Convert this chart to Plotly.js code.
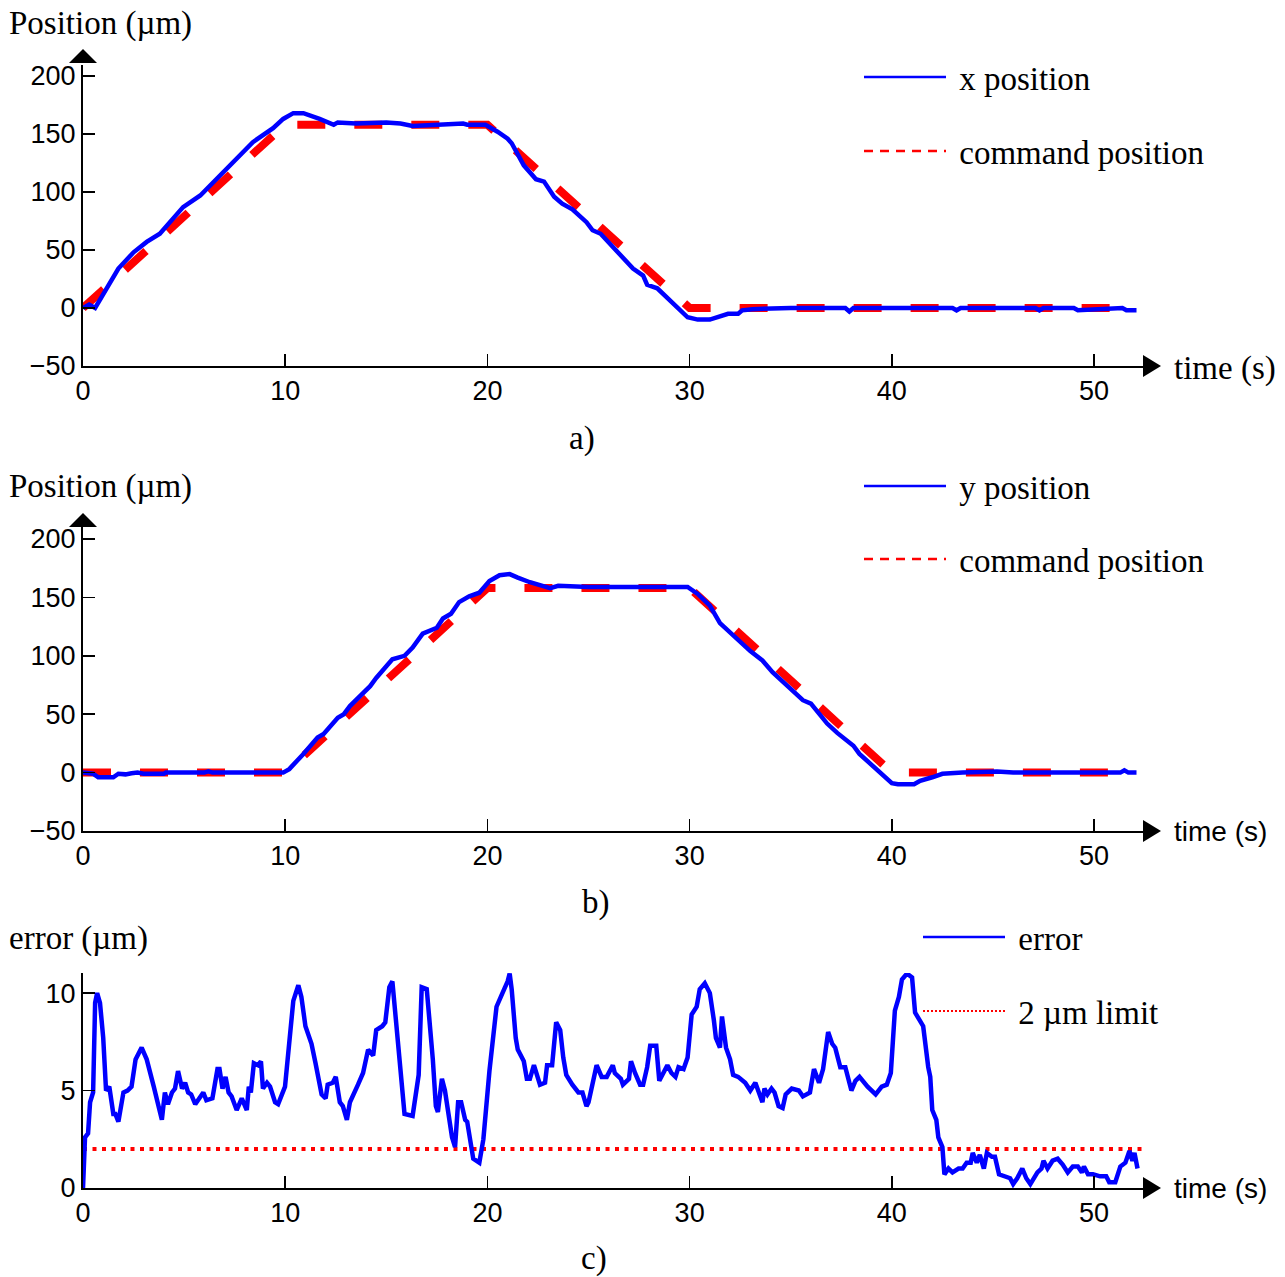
<!DOCTYPE html>
<html><head><meta charset="utf-8">
<script src="https://cdn.plot.ly/plotly-3.0.1.min.js"></script>
<style>html,body{margin:0;padding:0;background:#fff}</style>
</head><body><div id="chart" style="width:1285px;height:1277px"></div>
<script>
// ---- data (time in s, values in µm) ----
const tA = [0,0.3,0.6,0.84,1.33,1.75,2.5,3.15,3.8,4.3,4.95,5.8,7.1,8.4,9.4,9.9,10.4,10.9,11.7,12.4,12.6,13.5,15.0,15.7,16.3,17.5,18.8,19.0,19.9,20.5,21.0,21.2,21.5,21.8,22.4,22.8,23.3,23.7,24.2,24.9,25.2,25.6,27.2,27.7,27.9,28.4,29.9,30.4,31.0,31.5,31.9,32.4,32.6,33.1,35,37.7,37.8,37.9,38.1,40,43.0,43.2,43.4,45,47.1,47.3,47.5,49.0,49.2,51.4,51.6,52.1];
const xPos = [0,3,0,7,22,34,48,57,64,74,87,97,120,143,155,163,168,168,163,158,160,159,160,159,157,158,159,158,158,152,146,142,132,123,111,109,96,90,85,74,67,64,34,28,20,17,-8,-10,-10,-7,-5,-5,-2,-1,0,0,-1,-3,0,0,0,-2,0,0,0,-2,0,0,-2,0,-2,-2];
const tCmdA = [0,10,20,30,52];
const cmdA = [0,158,158,0,0];

const tB = [0,0.5,0.75,1.5,1.75,2.1,2.4,2.7,3.0,3.5,4.0,4.1,6.0,6.2,6.4,9.9,10.2,10.9,11.6,11.9,12.6,12.9,13.2,14.2,14.5,15.0,15.3,15.9,16.3,16.8,17.1,17.5,17.8,18.2,18.6,19.1,19.6,20.1,20.6,21.1,21.5,22.1,23.1,23.5,25,27,29.9,30.4,31.0,31.5,32.0,33.0,33.6,34.1,35.6,36.0,36.8,37.3,38.1,38.4,40.0,40.3,41.1,41.4,42.0,42.5,43.5,44.5,45.2,46,48,50,51.3,51.5,51.7,52.1];
const yPos = [0,-1,-4,-4,-1,-1.5,-0.5,0,-1,-1,-1,0,0,1,0,0,3,16,30,33,47,50,57,74,81,91,97,100,107,119,121,124,132,136,146,151,154,164,169,170,167,163,158,160,159,159,159,153,143,128,120,104,96,86,62,59,42,34,23,16,-9,-10,-10,-7,-4,-1,0,1,1,0,0,0,0,2,0,0];
const tCmdB = [0,10,20,30,40,52];
const cmdB = [0,0,158,158,0,0];

const tC = [0,0.1,0.25,0.35,0.5,0.6,0.7,0.84,1.0,1.14,1.3,1.5,1.6,1.75,2.0,2.2,2.4,2.6,2.9,3.15,3.5,3.9,4.05,4.2,4.4,4.55,4.7,4.9,5.05,5.2,5.35,5.55,5.95,6.1,6.4,6.65,6.75,6.9,7.05,7.2,7.35,7.6,7.85,8.1,8.2,8.3,8.45,8.65,8.8,8.9,9.1,9.25,9.5,9.65,9.99,10.15,10.4,10.65,10.8,11.0,11.3,11.5,11.8,12.0,12.1,12.35,12.5,12.7,12.85,13.05,13.2,13.6,13.85,14.1,14.35,14.5,14.8,14.95,15.15,15.3,15.5,15.75,15.9,16.3,16.5,16.6,16.75,17.0,17.3,17.45,17.55,17.75,17.9,18.25,18.4,18.55,18.7,18.9,19.0,19.3,19.6,19.8,20.1,20.45,20.7,21.0,21.1,21.2,21.4,21.5,21.8,21.95,22.1,22.3,22.6,22.85,22.95,23.2,23.4,23.6,23.75,23.9,24.2,24.5,24.7,24.9,25.0,25.2,25.4,25.65,25.9,26.2,26.3,26.6,26.7,27.0,27.1,27.3,27.55,27.7,27.9,28.05,28.35,28.5,28.7,28.9,29.1,29.3,29.45,29.7,29.9,30.1,30.35,30.5,30.75,31.0,31.2,31.3,31.5,31.6,31.8,32.0,32.15,32.4,32.75,33.0,33.25,33.4,33.6,33.7,33.85,34.05,34.2,34.4,34.6,34.75,35.05,35.4,35.6,35.95,36.15,36.4,36.6,36.85,37.05,37.2,37.45,37.7,38.0,38.2,38.4,38.8,39.2,39.5,39.75,39.95,40.15,40.35,40.5,40.75,41.0,41.15,41.55,41.8,41.9,42.0,42.2,42.3,42.5,42.6,42.8,43.0,43.3,43.5,43.7,43.9,44.0,44.2,44.35,44.55,44.7,44.95,45.1,45.3,45.6,45.85,46.0,46.2,46.45,46.65,46.85,47.2,47.4,47.5,47.7,47.95,48.2,48.45,48.7,48.95,49.2,49.4,49.5,49.7,49.95,50.3,50.6,50.75,51.05,51.3,51.55,51.75,51.9,52.0,52.15];
const errC = [0,2.6,2.8,4.4,4.9,9.5,10.0,9.5,7.7,5.0,5.2,3.8,3.8,3.4,4.9,5.0,5.2,6.6,7.2,6.6,5.2,3.5,4.9,4.3,4.9,5.1,6.0,5.1,5.4,4.9,4.8,4.3,4.9,4.5,4.6,6.1,6.1,5.1,5.7,4.9,4.7,4.0,4.6,4.0,5.2,4.9,6.4,6.3,6.5,5.1,5.4,5.2,4.4,4.3,5.2,6.9,9.6,10.4,9.8,8.3,7.4,6.4,4.8,4.6,5.3,5.4,5.7,4.4,4.2,3.5,4.4,5.3,5.9,7.1,6.8,8.1,8.3,8.5,10.3,10.6,8.3,5.9,3.8,3.7,5.0,5.8,10.3,10.2,6.6,4.2,3.9,5.6,5.0,2.6,2.1,4.4,4.4,3.5,3.4,1.5,1.3,2.5,6.0,9.3,9.9,10.6,11.0,10.2,7.7,7.1,6.5,5.6,5.6,6.3,5.3,5.4,6.3,6.3,8.5,8.1,6.7,5.8,5.3,4.9,4.9,4.2,4.4,5.5,6.3,5.7,5.7,6.3,5.9,5.6,5.3,5.6,6.5,5.9,5.3,5.3,6.2,7.3,7.3,5.5,5.9,6.3,5.9,5.7,6.2,6.1,6.7,8.9,9.3,10.2,10.5,10.0,8.6,7.7,7.2,8.8,7.2,6.6,5.8,5.7,5.4,5.0,5.4,5.0,4.4,5.1,4.8,5.1,4.9,4.2,4.1,4.8,5.1,5.0,4.7,4.9,6.1,5.4,6.1,8.0,7.4,7.2,6.2,6.2,5.0,5.5,5.7,5.2,4.8,5.2,5.3,5.9,9.1,9.8,10.7,11.0,10.8,9.0,8.3,6.2,5.7,4.0,3.5,2.6,2.1,0.7,1.0,0.8,1.0,1.0,1.3,1.3,1.8,1.3,1.7,1.0,1.8,1.6,1.6,0.7,0.6,0.5,0.2,0.5,1.0,0.5,0.2,0.8,1.0,1.4,1.0,1.4,1.5,1.2,0.8,1.1,1.1,0.8,1.1,0.7,0.7,0.6,0.6,0.3,0.3,1.1,1.3,1.9,1.4,1.8,1.0];
const tLimit = [0,52.6];
const limitC = [2,2];

const xTicks = [0,10,20,30,40,50];
const posTicks = [-50,0,50,100,150,200];
const errTicks = [0,5,10];

// ---- layout helpers ----
const W = 1285, H = 1277;
const px = v => v / W;
const py = v => 1 - v / H;
const SERIF = 'Liberation Serif, Times New Roman, serif';
const SANS = 'Liberation Sans, Arial, Helvetica, sans-serif';
const BLUE = '#0000ff', RED = '#ff0000';
const NB = '\u00a0';

function xAxis(anchor) {
  return {anchor: anchor, domain: [px(83), px(1145)], range: [0, 52.52],
    showline: true, linecolor: '#000', linewidth: 2, ticks: 'inside', ticklen: 12, tickwidth: 1.5, tickcolor: '#000',
    tickvals: xTicks, ticktext: xTicks.map(String), showgrid: false, zeroline: false,
    tickfont: {family: SANS, size: 27, color: '#000'}, fixedrange: true};
}
function yAxis(anchor, dom, range, ticks) {
  return {anchor: anchor, domain: dom, range: range,
    showline: true, linecolor: '#000', linewidth: 2, ticks: 'inside', ticklen: 12, tickwidth: 1.5, tickcolor: '#000',
    tickvals: ticks, showgrid: false, zeroline: false,
    tickfont: {family: SANS, size: 27, color: '#000'}, fixedrange: true};
}

const traces = [
  {x: tCmdA, y: cmdA, xaxis: 'x', yaxis: 'y', mode: 'lines', line: {color: RED, width: 8, dash: '28px,29px'}, showlegend: false},
  {x: tA, y: xPos, xaxis: 'x', yaxis: 'y', mode: 'lines', line: {color: BLUE, width: 4.5}, showlegend: false},
  {x: tCmdB, y: cmdB, xaxis: 'x2', yaxis: 'y2', mode: 'lines', line: {color: RED, width: 8, dash: '28px,29px'}, showlegend: false},
  {x: tB, y: yPos, xaxis: 'x2', yaxis: 'y2', mode: 'lines', line: {color: BLUE, width: 4.5}, showlegend: false},
  {x: tLimit, y: limitC, xaxis: 'x3', yaxis: 'y3', mode: 'lines', line: {color: RED, width: 4, dash: '4px,5.5px'}, showlegend: false},
  {x: tC, y: errC, xaxis: 'x3', yaxis: 'y3', mode: 'lines', line: {color: BLUE, width: 4.5}, showlegend: false},
  // legend entries
  {x: [null], y: [null], xaxis: 'x', yaxis: 'y', mode: 'lines', name: NB + 'x position', line: {color: BLUE, width: 2.5}, legend: 'legend'},
  {x: [null], y: [null], xaxis: 'x', yaxis: 'y', mode: 'lines', name: NB + 'command position', line: {color: RED, width: 2.5, dash: '9px,7px'}, legend: 'legend2'},
  {x: [null], y: [null], xaxis: 'x2', yaxis: 'y2', mode: 'lines', name: NB + 'y position', line: {color: BLUE, width: 2.5}, legend: 'legend3'},
  {x: [null], y: [null], xaxis: 'x2', yaxis: 'y2', mode: 'lines', name: NB + 'command position', line: {color: RED, width: 2.5, dash: '9px,7px'}, legend: 'legend4'},
  {x: [null], y: [null], xaxis: 'x3', yaxis: 'y3', mode: 'lines', name: NB + 'error', line: {color: BLUE, width: 2.5}, legend: 'legend5'},
  {x: [null], y: [null], xaxis: 'x3', yaxis: 'y3', mode: 'lines', name: NB + '2 µm limit', line: {color: RED, width: 2, dash: '2px,2px'}, legend: 'legend6'}
];

function leg(lx, ly) {
  return {x: px(lx), y: py(ly), xanchor: 'left', yanchor: 'middle', bgcolor: 'rgba(0,0,0,0)', borderwidth: 0,
    font: {family: SERIF, size: 33, color: '#000'}, itemwidth: 82, itemclick: false, itemdoubleclick: false};
}

function tri(pts) {
  return {type: 'path', xref: 'paper', yref: 'paper', fillcolor: '#000', line: {width: 0},
    path: 'M' + pts.map(p => px(p[0]) + ',' + py(p[1])).join(' L') + ' Z'};
}
const shapes = [
  tri([[1143, 355], [1161, 366], [1143, 377]]),
  tri([[69, 63], [83, 49], [97, 63]]),
  tri([[1143, 820], [1161, 831], [1143, 842]]),
  tri([[69, 527], [83, 513], [97, 527]]),
  tri([[1143, 1177], [1161, 1188], [1143, 1199]])
];

function ann(text, x, y, font, anchor) {
  return {text: text, xref: 'paper', yref: 'paper', x: px(x), y: py(y), xanchor: anchor || 'left', yanchor: 'middle',
    showarrow: false, font: font};
}
const serifF = {family: SERIF, size: 33, color: '#000'};
const sansF = {family: SANS, size: 28, color: '#000'};
const annotations = [
  ann('Position (µm)', 7, 24, serifF),
  ann('time (s)', 1172, 369, serifF),
  ann('a)', 582, 438, serifF, 'center'),
  ann('Position (µm)', 7, 487, serifF),
  ann('time (s)', 1172, 831, sansF),
  ann('b)', 596, 902, serifF, 'center'),
  ann('error (µm)', 7, 938, serifF),
  ann('time (s)', 1172, 1188, sansF),
  ann('c)', 594, 1258, serifF, 'center')
];

const layout = {
  width: W, height: H, margin: {l: 0, r: 0, t: 0, b: 0}, paper_bgcolor: '#fff', plot_bgcolor: 'rgba(0,0,0,0)',
  showlegend: true,
  xaxis: xAxis('y'), yaxis: yAxis('x', [py(366), py(65)], [-50, 209.5], posTicks),
  xaxis2: xAxis('y2'), yaxis2: yAxis('x2', [py(831), py(527)], [-50, 210.3], posTicks),
  xaxis3: xAxis('y3'), yaxis3: yAxis('x3', [py(1188), py(973)], [0, 11.03], errTicks),
  legend: leg(859, 77), legend2: leg(859, 151), legend3: leg(859, 486), legend4: leg(859, 559),
  legend5: leg(918, 937), legend6: leg(918, 1011),
  shapes: shapes, annotations: annotations
};

Plotly.newPlot('chart', traces, layout, {staticPlot: true, displayModeBar: false});
</script>
</body></html>
